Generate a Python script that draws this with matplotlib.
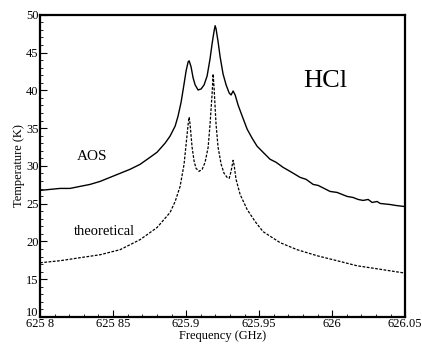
import matplotlib
matplotlib.use("Agg")
import matplotlib.pyplot as plt
import matplotlib.transforms as mtransforms
from matplotlib.ticker import MultipleLocator, FixedLocator

plt.rcParams['font.family'] = ['Liberation Serif', 'DejaVu Serif']

aos_freq = [625.8, 625.8068, 625.8137, 625.8205, 625.8274, 625.8342, 625.8411, 625.8479,
            625.8548, 625.8616, 625.8685, 625.8753, 625.8801, 625.8856, 625.8890, 625.8925,
            625.8945, 625.8966, 625.8986, 625.9000, 625.9014, 625.9021, 625.9034, 625.9048,
            625.9062, 625.9082, 625.9103, 625.9123, 625.9144, 625.9164, 625.9178, 625.9192,
            625.9199, 625.9205, 625.9219, 625.9233, 625.9253, 625.9274, 625.9295, 625.9308,
            625.9322, 625.9336, 625.9356, 625.9384, 625.9418, 625.9452, 625.9486, 625.9527,
            625.9575, 625.9616, 625.9664, 625.9712, 625.9781, 625.9822, 625.9870, 625.9904,
            625.9932, 625.9986, 626.0034, 626.0103, 626.0144, 626.0178, 626.0212, 626.0247,
            626.0274, 626.0308, 626.0329, 626.0397, 626.0438, 626.0493]
aos_temp = [26.76, 26.89, 27.02, 27.02, 27.29, 27.55, 27.95, 28.48,
            29.02, 29.55, 30.21, 31.14, 31.81, 33.01, 33.94, 35.27,
            36.60, 38.46, 40.85, 42.58, 43.78, 43.91, 43.11, 41.65,
            40.72, 40.05, 40.19, 40.72, 41.91, 44.18, 46.17, 47.90,
            48.56, 48.16, 46.44, 44.44, 42.18, 40.72, 39.65, 39.39,
            39.92, 39.39, 38.06, 36.60, 34.87, 33.67, 32.61, 31.81,
            30.88, 30.48, 29.81, 29.28, 28.48, 28.22, 27.55, 27.42,
            27.15, 26.62, 26.49, 25.96, 25.82, 25.56, 25.43, 25.56,
            25.16, 25.29, 25.03, 24.89, 24.76, 24.63]

# Theoretical spectrum----------------------------------------------------------
th_freq = [625.8, 625.8137, 625.8274, 625.8411, 625.8548, 625.8685, 625.8801, 625.8890,
           625.8925, 625.8959, 625.8986, 625.9000, 625.9014, 625.9021, 625.9027, 625.9041,
           625.9055, 625.9068, 625.9089, 625.9110, 625.9130, 625.9151, 625.9164, 625.9178,
           625.9185, 625.9192, 625.9205, 625.9219, 625.9240, 625.9260, 625.9281, 625.9295,
           625.9308, 625.9322, 625.9329, 625.9342, 625.9370, 625.9418, 625.9473, 625.9527,
           625.9644, 625.9760, 625.9897, 626.0034, 626.0171, 626.0308, 626.0486]
th_temp = [17.18, 17.45, 17.85, 18.24, 18.91, 20.24, 21.84, 23.83,
           25.29, 27.29, 30.21, 32.87, 35.53, 36.46, 35.53, 32.47,
           30.61, 29.68, 29.28, 29.55, 30.48, 32.47, 35.53, 39.52,
           42.18, 40.19, 35.53, 32.47, 30.21, 29.02, 28.48, 28.35,
           29.28, 30.74, 30.08, 28.22, 26.22, 24.23, 22.63, 21.30,
           19.84, 18.91, 18.11, 17.45, 16.78, 16.38, 15.85]

xtick_vals = [625.8, 625.85, 625.9, 625.95, 626.0, 626.05]
xtick_labels = ['625 8', '625 85', '625.9', '625.95', '626', '626.05']
ytick_vals = [10, 15, 20, 25, 30, 35, 40, 45, 50]

# Plot--------------------------------------------------------------------------
fig = plt.figure(figsize=(4.22, 3.53), dpi=100)
ax = fig.add_axes([0.095, 0.102, 0.865, 0.856])

ax.plot(aos_freq, aos_temp, color='black', lw=1.0)
ax.plot(th_freq, th_temp, color='black', lw=0.9, linestyle=(0, (2.2, 1.2)))

ax.set_xlim(625.8, 626.05)
ax.set_ylim(10, 50)
ax.xaxis.set_major_locator(FixedLocator(xtick_vals))
ax.set_xticklabels(xtick_labels)
ax.xaxis.set_minor_locator(MultipleLocator(0.01))
ax.yaxis.set_major_locator(FixedLocator(ytick_vals))
ax.yaxis.set_minor_locator(MultipleLocator(1))
ax.tick_params(which='major', direction='in', length=5, width=0.8, labelsize=9, pad=1)
ax.tick_params(which='minor', direction='in', length=2.5, width=0.6)

for s in ax.spines.values():
    s.set_linewidth(1.6)

ax.set_xlabel('Frequency (GHz)', fontsize=9, labelpad=0)
ax.set_ylabel('Temperature (K)', fontsize=9, labelpad=1)

# the bottom "10" sits just above the first frequency label
fig.canvas.draw()
lbl10 = ax.get_yticklabels()[0]
lbl10.set_transform(lbl10.get_transform() + mtransforms.ScaledTranslation(0, 4 / 72, fig.dpi_scale_trans))

ax.text(625.8356, 31.3, 'AOS', fontsize=11, ha='center', va='center')
ax.text(625.8438, 21.3, 'theoretical', fontsize=10.5, ha='center', va='center')
ax.text(625.9952, 41.3, 'HCl', fontsize=19, ha='center', va='center')

fig.savefig('out.png', dpi=100)
